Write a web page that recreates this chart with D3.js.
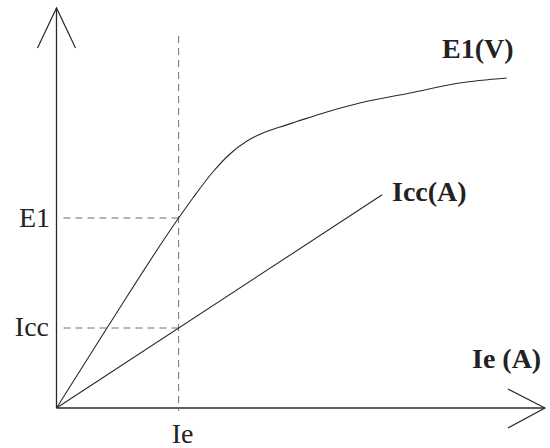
<!DOCTYPE html>
<html>
<head>
<meta charset="utf-8">
<script src="https://cdn.jsdelivr.net/npm/d3@7"></script>
<style>
  html, body { margin: 0; padding: 0; background: #fff; }
  svg { display: block; }
  text { font-family: "Liberation Serif", "Times New Roman", serif; fill: #222; }
</style>
</head>
<body>
<script>
// Excitation current Ie (A) against E1 (V) and short-circuit current Icc (A)
const ieValues = [0, 1.24, 3.0, 3.35, 3.84, 4.26, 4.68, 5.07, 5.49, 5.9, 6.64, 7.45, 8.68, 9.9, 11.06];
const e1Values = [0, 2.0, 4.75, 5.25, 5.9, 6.35, 6.675, 6.875, 7.025, 7.16, 7.4, 7.625, 7.875, 8.125, 8.25];
const iccIe = [0, 8];
const iccValues = [0, 5.33];
const operatingIe = 3.0;
const operatingE1 = 4.75;
const operatingIcc = 2.0;
const seriesLabels = ["E1(V)", "Icc(A)", "Ie (A)"];
const markerLabels = ["E1", "Icc", "Ie"];

const W = 550, H = 448;
const svg = d3.select("body").append("svg").attr("width", W).attr("height", H);

const x = d3.scaleLinear().domain([0, 12]).range([56.5, 545]);
const y = d3.scaleLinear().domain([0, 10]).range([408, 8]);

const ink = "#2a2a2a";

// axes with open arrowheads
const g = svg.append("g");
g.append("line").attr("x1", x(0)).attr("y1", y(0)).attr("x2", x(0)).attr("y2", y(10))
  .attr("stroke", ink).attr("stroke-width", 1.3);
g.append("path")
  .attr("d", `M${x(0) - 19},${y(10) + 40} L${x(0)},${y(10)} L${x(0) + 19},${y(10) + 40}`)
  .attr("fill", "none").attr("stroke", ink).attr("stroke-width", 1.2);
g.append("line").attr("x1", x(0)).attr("y1", y(0)).attr("x2", x(12)).attr("y2", y(0))
  .attr("stroke", ink).attr("stroke-width", 1.3);
g.append("path")
  .attr("d", `M${x(12) - 37},${y(0) - 19} L${x(12)},${y(0)} L${x(12) - 37},${y(0) + 20}`)
  .attr("fill", "none").attr("stroke", ink).attr("stroke-width", 1.2);

// dashed guides
const dash = "#6e6e6e";
g.append("line").attr("x1", x(operatingIe)).attr("x2", x(operatingIe))
  .attr("y1", 36).attr("y2", y(0) + 3)
  .attr("stroke", dash).attr("stroke-width", 1).attr("stroke-dasharray", "7,5");
[operatingE1, operatingIcc].forEach(v => {
  g.append("line").attr("x1", x(0) + 7).attr("x2", x(operatingIe))
    .attr("y1", y(v)).attr("y2", y(v))
    .attr("stroke", dash).attr("stroke-width", 1).attr("stroke-dasharray", "7,5");
});

// E1 curve
const e1Data = ieValues.map((v, i) => [v, e1Values[i]]);
g.append("path").datum(e1Data)
  .attr("d", d3.line().x(d => x(d[0])).y(d => y(d[1])).curve(d3.curveMonotoneX))
  .attr("fill", "none").attr("stroke", ink).attr("stroke-width", 1.1);

// Icc line
const iccData = iccIe.map((v, i) => [v, iccValues[i]]);
g.append("path").datum(iccData)
  .attr("d", d3.line().x(d => x(d[0])).y(d => y(d[1])))
  .attr("fill", "none").attr("stroke", ink).attr("stroke-width", 1.1);

// series labels
g.append("text").attr("x", 442).attr("y", 58).attr("font-size", 28).attr("font-weight", "bold")
  .text(seriesLabels[0]);
g.append("text").attr("x", 392).attr("y", 201).attr("font-size", 28).attr("font-weight", "bold")
  .text(seriesLabels[1]);
g.append("text").attr("x", 472).attr("y", 368).attr("font-size", 28).attr("font-weight", "bold")
  .text(seriesLabels[2]);

// marker labels
g.append("text").attr("x", 50).attr("y", y(operatingE1) + 9).attr("text-anchor", "end")
  .attr("font-size", 28).text(markerLabels[0]);
g.append("text").attr("x", 49).attr("y", y(operatingIcc) + 8).attr("text-anchor", "end")
  .attr("font-size", 28).text(markerLabels[1]);
g.append("text").attr("x", x(operatingIe) + 4).attr("y", 443).attr("text-anchor", "middle")
  .attr("font-size", 28).text(markerLabels[2]);
</script>
</body>
</html>
